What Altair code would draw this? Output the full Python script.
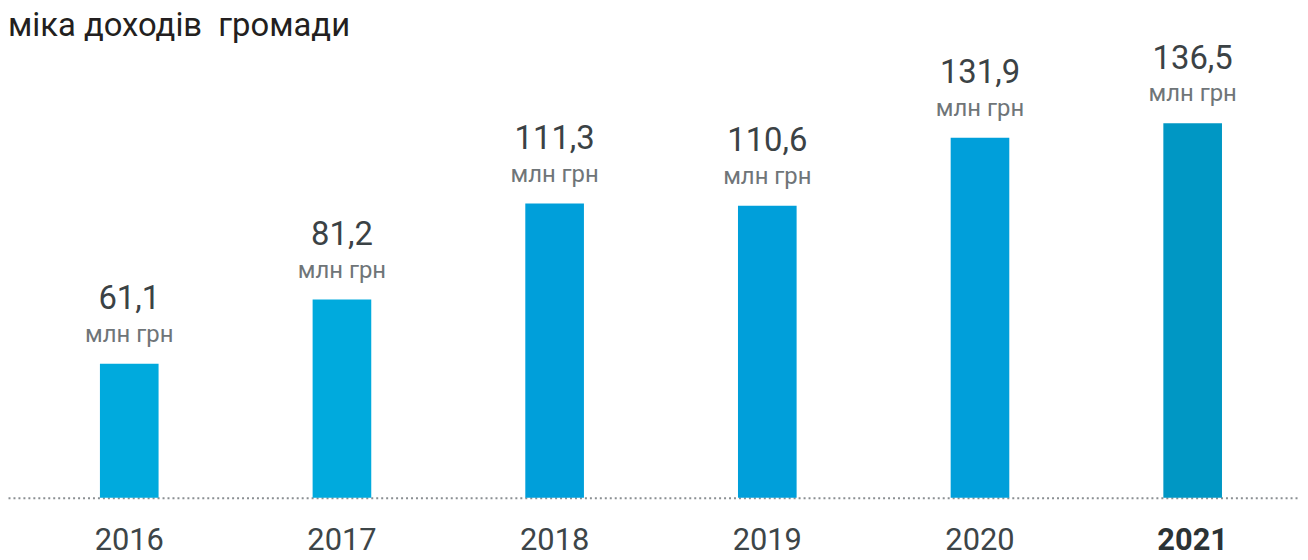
import altair as alt
import pandas as pd

years = ["2016", "2017", "2018", "2019", "2020", "2021"]
values = [61.1, 81.2, 111.3, 110.6, 131.9, 136.5]
value_labels = ["61,1", "81,2", "111,3", "110,6", "131,9", "136,5"]
unit_label = "млн грн"
bar_colors = ["#00aadd", "#00aadd", "#009fda", "#009fda", "#009fda", "#0097c4"]
title_text = "міка доходів \u00a0громади"

FONT = "Roboto"
W, H = 1300, 458
y_dom = [19.1, 161.8]

df = pd.DataFrame({
    "year": years,
    "value": values,
    "label": value_labels,
    "unit": [unit_label] * len(years),
    "base": [y_dom[0]] * len(years),
})

x_scale = alt.Scale(domain=years, paddingInner=0, paddingOuter=0.0374, align=0.9375, round=False)
y_scale = alt.Scale(domain=y_dom, zero=False)

base = alt.Chart(df)

bars = base.mark_bar(size=59).encode(
    x=alt.X("year:N", scale=x_scale,
            axis=alt.Axis(title=None, domain=True, domainColor="#8a8f92",
                          domainDash=[2, 3], domainWidth=2,
                          ticks=False, grid=False,
                          labelAngle=0, labelFont=FONT, labelFontSize=31,
                          labelColor={"condition": {"test": "datum.label == '2021'", "value": "#2b3335"}, "value": "#3d4548"},
                          labelFontWeight={"condition": {"test": "datum.label == '2021'", "value": "bold"}, "value": "normal"},
                          labelPadding=28)),
    y=alt.Y("value:Q", scale=y_scale, axis=None),
    y2="base:Q",
    color=alt.Color("year:N", scale=alt.Scale(domain=years, range=bar_colors), legend=None),
)

val_text = base.mark_text(font=FONT, fontSize=33, color="#3b4245",
                          baseline="alphabetic", dy=-55).encode(
    x=alt.X("year:N", scale=x_scale),
    y=alt.Y("value:Q", scale=y_scale),
    text="label:N",
)

unit_text = base.mark_text(font=FONT, fontSize=24, color="#6f7578",
                           baseline="alphabetic", dy=-22).encode(
    x=alt.X("year:N", scale=x_scale),
    y=alt.Y("value:Q", scale=y_scale),
    text="unit:N",
)

chart = alt.layer(bars, val_text, unit_text).properties(
    width=W, height=H, padding=0,
    title=alt.TitleParams(title_text, anchor="start", font=FONT, fontSize=33,
                          fontWeight="normal", color="#231f20", offset=0),
).configure_view(stroke=None)

chart.save("out.html", embed_options={"renderer": "svg", "actions": False})
